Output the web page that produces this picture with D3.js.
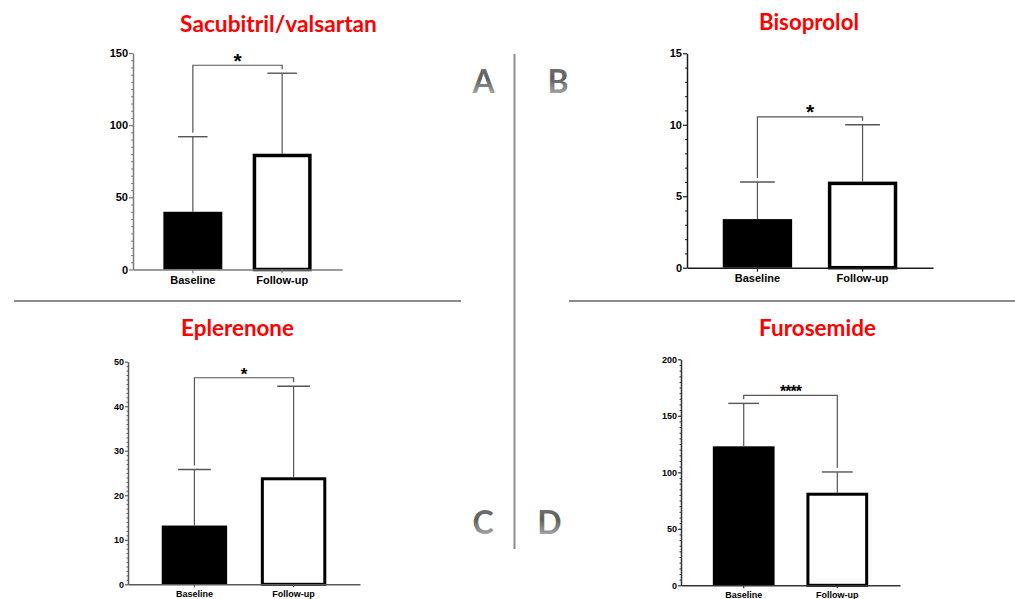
<!DOCTYPE html>
<html>
<head>
<meta charset="utf-8">
<script src="https://cdn.jsdelivr.net/npm/d3@7"></script>
<style>
  html, body { margin: 0; padding: 0; background: #fff; }
  svg { display: block; }
</style>
</head>
<body>
<svg id="chart" width="1015" height="599"></svg>
<script>
// ---------------- DATA ----------------
const categories = ["Baseline", "Follow-up"];
const panelTitles = ["Sacubitril/valsartan", "Bisoprolol", "Eplerenone", "Furosemide"];
const panelLetters = ["A", "B", "C", "D"];

const sacubitrilMean = [40, 79];
const sacubitrilSD = [52, 57];
const bisoprololMean = [3.4, 5.9];
const bisoprololSD = [2.6, 4.1];
const eplerenoneMean = [13.2, 23.7];
const eplerenoneSD = [12.6, 20.8];
const furosemideMean = [123, 80.6];
const furosemideSD = [38, 19.7];

const sacubitrilTicks = [0, 50, 100, 150];
const bisoprololTicks = [0, 5, 10, 15];
const eplerenoneTicks = [0, 10, 20, 30, 40, 50];
const furosemideTicks = [0, 50, 100, 150, 200];

const minorTickSteps = [5, 1, 1, 5];
const bracketLevels = [141.5, 10.55, 46.4, 168];
const significance = ["*", "*", "*", "****"];

// ---------------- LAYOUT ----------------
const panels = [
  { mean: sacubitrilMean, sd: sacubitrilSD, ticks: sacubitrilTicks,
    x0: 133, x1: 342, yb: 269.5, yt: 53, font: 11, tick: 4, minor: 2, axisColor: "#7a7a7a",
    sw: 3.5, starSize: 21, title: { cx: 278.5, y: 31.5, w: 197 } },
  { mean: bisoprololMean, sd: bisoprololSD, ticks: bisoprololTicks,
    x0: 687, x1: 933, yb: 267.7, yt: 53.3, font: 11, tick: 4, minor: 2, axisColor: "#1a1a1a",
    sw: 3.5, starSize: 21, title: { cx: 809, y: 30, w: 100 } },
  { mean: eplerenoneMean, sd: eplerenoneSD, ticks: eplerenoneTicks,
    x0: 128, x1: 360, yb: 584.3, yt: 361.7, font: 9, tick: 3, minor: 1.5, axisColor: "#5a5a5a",
    sw: 3, starSize: 17, title: { cx: 237.5, y: 336, w: 113 } },
  { mean: furosemideMean, sd: furosemideSD, ticks: furosemideTicks,
    x0: 681, x1: 900, yb: 585.3, yt: 359.3, font: 9, tick: 3, minor: 1.5, axisColor: "#333",
    sw: 3, starSize: 16, title: { cx: 817.5, y: 336, w: 117 } }
];

const letterPos = [
  { x: 483.5, y: 93 }, { x: 558, y: 93 }, { x: 483, y: 534 }, { x: 549.5, y: 534 }
];

const svg = d3.select("#chart");
const defs = svg.append("defs");
const grad = defs.append("linearGradient").attr("id", "letterGrad")
  .attr("x1", 0).attr("y1", 0).attr("x2", 0).attr("y2", 1);
grad.append("stop").attr("offset", "0%").attr("stop-color", "#7e7e7e");
grad.append("stop").attr("offset", "45%").attr("stop-color", "#5e5e5e");
grad.append("stop").attr("offset", "100%").attr("stop-color", "#c4c4c4");

const FONT = "Arial, 'Liberation Sans', sans-serif";

function fitWidth(sel, target) {
  const w = sel.node().getComputedTextLength();
  const fs = parseFloat(sel.attr("font-size"));
  sel.attr("font-size", fs * target / w);
}

panels.forEach((p, i) => {
  const g = svg.append("g");
  const yMax = p.ticks[p.ticks.length - 1];
  const x = d3.scaleBand().domain(categories).range([p.x0, p.x1])
    .paddingInner(0.34).paddingOuter(0.34);
  const y = d3.scaleLinear().domain([0, yMax]).range([p.yb, p.yt]);

  // title
  const t = g.append("text")
    .attr("x", p.title.cx).attr("y", p.title.y)
    .attr("text-anchor", "middle")
    .attr("font-family", "Lato, 'Open Sans', sans-serif")
    .attr("font-weight", "bold")
    .attr("font-size", 22)
    .attr("fill", "#ff0000")
    .text(panelTitles[i]);
  fitWidth(t, p.title.w);

  // bars
  categories.forEach((c, j) => {
    if (j === 0) {
      g.append("rect")
        .attr("x", x(c)).attr("width", x.bandwidth())
        .attr("y", y(p.mean[j])).attr("height", y(0) - y(p.mean[j]))
        .attr("fill", "#000");
    } else {
      g.append("rect")
        .attr("x", x(c) + p.sw / 2).attr("width", x.bandwidth() - p.sw)
        .attr("y", y(p.mean[j])).attr("height", y(0) - y(p.mean[j]))
        .attr("fill", "#fff").attr("stroke", "#000").attr("stroke-width", p.sw);
    }
  });

  // error bars
  const capW = x.bandwidth() * 0.5;
  categories.forEach((c, j) => {
    const cx = x(c) + x.bandwidth() / 2;
    const top = p.mean[j] + p.sd[j];
    g.append("line")
      .attr("x1", cx).attr("x2", cx)
      .attr("y1", y(p.mean[j]) - (j === 1 ? p.sw / 2 : 0)).attr("y2", y(top))
      .attr("stroke", "#555").attr("stroke-width", 1.2);
    g.append("line")
      .attr("x1", cx - capW / 2).attr("x2", cx + capW / 2)
      .attr("y1", y(top)).attr("y2", y(top))
      .attr("stroke", "#555").attr("stroke-width", 1.4);
  });

  // significance bracket
  const bx = categories.map(c => x(c) + x.bandwidth() / 2);
  const by = y(bracketLevels[i]);
  const legEnd = categories.map((c, j) => y(p.mean[j] + p.sd[j]) - 4);
  g.append("path")
    .attr("d", `M${bx[0]},${legEnd[0]}V${by}H${bx[1]}V${legEnd[1]}`)
    .attr("fill", "none").attr("stroke", "#555").attr("stroke-width", 1.2);
  g.append("text")
    .attr("x", (bx[0] + bx[1]) / 2).attr("y", by + p.starSize * 0.12)
    .attr("text-anchor", "middle")
    .attr("font-family", FONT).attr("font-weight", "bold")
    .attr("font-size", p.starSize).attr("fill", "#000")
    .attr("letter-spacing", i === 3 ? -1 : 0)
    .text(significance[i]);

  // y minor ticks
  const minorVals = d3.range(0, yMax + 1e-9, minorTickSteps[i]).filter(v => !p.ticks.includes(v));
  const minorAxis = g.append("g").attr("transform", `translate(${p.x0},0)`)
    .call(d3.axisLeft(y).tickValues(minorVals).tickSize(p.minor).tickFormat(""));
  minorAxis.select(".domain").remove();
  minorAxis.selectAll("line").attr("stroke", p.axisColor).attr("stroke-width", 1);

  // y axis
  const ya = g.append("g").attr("transform", `translate(${p.x0},0)`)
    .call(d3.axisLeft(y).tickValues(p.ticks).tickSize(p.tick).tickSizeOuter(0).tickPadding(1));
  ya.select(".domain").attr("stroke", p.axisColor).attr("stroke-width", 1.5);
  ya.selectAll("line").attr("stroke", p.axisColor).attr("stroke-width", 1.2);
  ya.selectAll("text").attr("font-family", FONT).attr("font-weight", "bold")
    .attr("font-size", p.font).attr("fill", "#000");

  // x axis
  const xa = g.append("g").attr("transform", `translate(0,${p.yb})`)
    .call(d3.axisBottom(x).tickSize(p.tick).tickSizeOuter(0).tickPadding(3));
  xa.select(".domain").attr("stroke", p.axisColor).attr("stroke-width", 1.5);
  xa.selectAll("line").attr("stroke", p.axisColor).attr("stroke-width", 1.2);
  xa.selectAll("text").attr("font-family", FONT).attr("font-weight", "bold")
    .attr("font-size", p.font).attr("fill", "#000");
});

// separators
svg.append("line").attr("x1", 14).attr("x2", 461).attr("y1", 301).attr("y2", 301)
  .attr("stroke", "#8c8c8c").attr("stroke-width", 2);
svg.append("line").attr("x1", 569).attr("x2", 1015).attr("y1", 301).attr("y2", 301)
  .attr("stroke", "#8c8c8c").attr("stroke-width", 2);
svg.append("line").attr("x1", 514.5).attr("x2", 514.5).attr("y1", 54).attr("y2", 549)
  .attr("stroke", "#8c8c8c").attr("stroke-width", 2);

// panel letters
panelLetters.forEach((L, i) => {
  svg.append("text")
    .attr("x", letterPos[i].x).attr("y", letterPos[i].y)
    .attr("text-anchor", "middle")
    .attr("font-family", "Lato, 'Open Sans', sans-serif")
    .attr("font-weight", "bold").attr("font-size", 32)
    .attr("fill", "url(#letterGrad)")
    .text(L);
});
</script>
</body>
</html>
